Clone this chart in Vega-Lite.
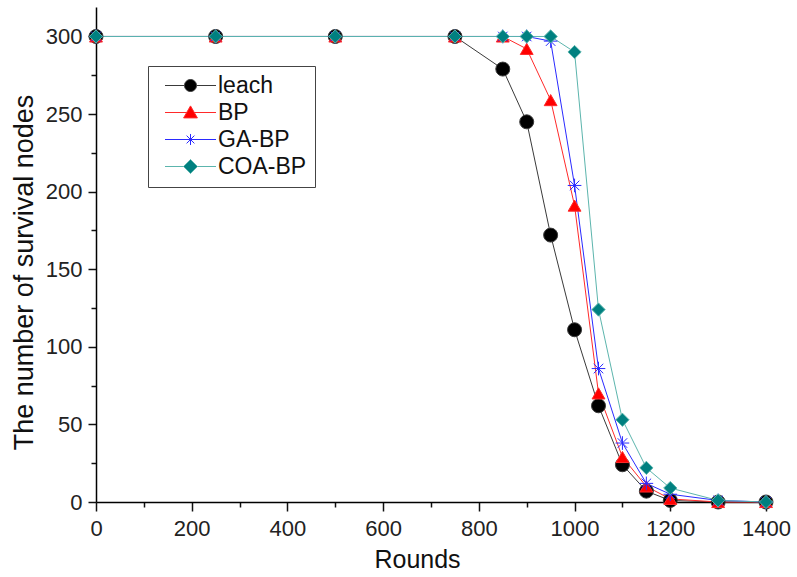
{
  "$schema": "https://vega.github.io/schema/vega-lite/v6.json",
  "width": 670,
  "height": 495,
  "autosize": "none",
  "padding": {"left": 96, "top": 7, "right": 31, "bottom": 75},
  "config": {
    "view": {"stroke": null},
    "font": "Liberation Sans",
    "axis": {
      "grid": false,
      "domainColor": "#000000",
      "domainWidth": 1.5,
      "tickColor": "#111111",
      "tickWidth": 1.5,
      "labelFont": "Liberation Sans",
      "labelFontSize": 22,
      "labelColor": "#222222",
      "titleFont": "Liberation Sans",
      "titleFontSize": 25,
      "titleFontWeight": "normal",
      "titleColor": "#111111"
    },
    "legend": {
      "title": null,
      "orient": "none",
      "legendX": 52,
      "legendY": 59,
      "padding": 8,
      "strokeColor": "#444444",
      "fillColor": "#ffffff",
      "labelFont": "Liberation Sans",
      "labelFontSize": 23,
      "labelColor": "#111111",
      "labelLimit": 300,
      "symbolSize": 144,
      "symbolStrokeWidth": 1,
      "symbolOffset": 23,
      "labelOffset": 16,
      "rowPadding": 3
    }
  },
  "data": {
    "values": [
      {"series": "leach", "round": 0, "nodes": 300},
      {"series": "leach", "round": 250, "nodes": 300},
      {"series": "leach", "round": 500, "nodes": 300},
      {"series": "leach", "round": 750, "nodes": 300},
      {"series": "leach", "round": 850, "nodes": 279},
      {"series": "leach", "round": 900, "nodes": 245},
      {"series": "leach", "round": 950, "nodes": 172},
      {"series": "leach", "round": 1000, "nodes": 111},
      {"series": "leach", "round": 1050, "nodes": 62},
      {"series": "leach", "round": 1100, "nodes": 24},
      {"series": "leach", "round": 1150, "nodes": 7},
      {"series": "leach", "round": 1200, "nodes": 1},
      {"series": "leach", "round": 1300, "nodes": 0},
      {"series": "leach", "round": 1400, "nodes": 0},
      {"series": "BP", "round": 0, "nodes": 300},
      {"series": "BP", "round": 250, "nodes": 300},
      {"series": "BP", "round": 500, "nodes": 300},
      {"series": "BP", "round": 750, "nodes": 300},
      {"series": "BP", "round": 850, "nodes": 300},
      {"series": "BP", "round": 900, "nodes": 292},
      {"series": "BP", "round": 950, "nodes": 259},
      {"series": "BP", "round": 1000, "nodes": 191},
      {"series": "BP", "round": 1050, "nodes": 70},
      {"series": "BP", "round": 1100, "nodes": 29},
      {"series": "BP", "round": 1150, "nodes": 10},
      {"series": "BP", "round": 1200, "nodes": 2},
      {"series": "BP", "round": 1300, "nodes": 0},
      {"series": "BP", "round": 1400, "nodes": 0},
      {"series": "GA-BP", "round": 0, "nodes": 300},
      {"series": "GA-BP", "round": 250, "nodes": 300},
      {"series": "GA-BP", "round": 500, "nodes": 300},
      {"series": "GA-BP", "round": 750, "nodes": 300},
      {"series": "GA-BP", "round": 850, "nodes": 300},
      {"series": "GA-BP", "round": 900, "nodes": 300},
      {"series": "GA-BP", "round": 950, "nodes": 297},
      {"series": "GA-BP", "round": 1000, "nodes": 204},
      {"series": "GA-BP", "round": 1050, "nodes": 86},
      {"series": "GA-BP", "round": 1100, "nodes": 38},
      {"series": "GA-BP", "round": 1150, "nodes": 12},
      {"series": "GA-BP", "round": 1200, "nodes": 5},
      {"series": "GA-BP", "round": 1300, "nodes": 1},
      {"series": "GA-BP", "round": 1400, "nodes": 0},
      {"series": "COA-BP", "round": 0, "nodes": 300},
      {"series": "COA-BP", "round": 250, "nodes": 300},
      {"series": "COA-BP", "round": 500, "nodes": 300},
      {"series": "COA-BP", "round": 750, "nodes": 300},
      {"series": "COA-BP", "round": 850, "nodes": 300},
      {"series": "COA-BP", "round": 900, "nodes": 300},
      {"series": "COA-BP", "round": 950, "nodes": 300},
      {"series": "COA-BP", "round": 1000, "nodes": 290},
      {"series": "COA-BP", "round": 1050, "nodes": 124},
      {"series": "COA-BP", "round": 1100, "nodes": 53},
      {"series": "COA-BP", "round": 1150, "nodes": 22},
      {"series": "COA-BP", "round": 1200, "nodes": 9},
      {"series": "COA-BP", "round": 1300, "nodes": 1},
      {"series": "COA-BP", "round": 1400, "nodes": 0}
    ]
  },
  "encoding": {
    "x": {
      "field": "round",
      "type": "quantitative",
      "scale": {"domain": [0, 1400], "nice": false},
      "axis": {
        "title": "Rounds",
        "format": "d",
        "values": [0, 100, 200, 300, 400, 500, 600, 700, 800, 900, 1000, 1100, 1200, 1300, 1400],
        "labelExpr": "datum.value % 200 === 0 ? datum.label : ''",
        "tickSize": {"condition": {"test": "datum.value % 200 === 0", "value": 9}, "value": 5},
        "labelPadding": 7,
        "labelFlush": false,
        "labelOverlap": false,
        "titleX": 321,
        "titleY": 65,
        "titleBaseline": "alphabetic",
        "titleAnchor": "middle"
      }
    },
    "y": {
      "field": "nodes",
      "type": "quantitative",
      "scale": {"domain": [0, 319], "nice": false},
      "axis": {
        "title": "The number of survival nodes",
        "format": "d",
        "values": [0, 25, 50, 75, 100, 125, 150, 175, 200, 225, 250, 275, 300],
        "labelExpr": "datum.value % 50 === 0 ? datum.label : ''",
        "tickSize": {"condition": {"test": "datum.value % 50 === 0", "value": 8}, "value": 5},
        "labelPadding": 6,
        "labelFlush": false,
        "labelOverlap": false,
        "titleFontSize": 27,
        "titleX": -72,
        "titleY": 265,
        "titleBaseline": "middle",
        "titleAnchor": "middle"
      }
    }
  },
  "layer": [
    {
      "mark": {"type": "line", "strokeWidth": 1},
      "encoding": {
        "stroke": {
          "field": "series",
          "type": "nominal",
          "scale": {
            "domain": ["leach", "BP", "GA-BP", "COA-BP"],
            "range": ["#3a3a3a", "#ff2a2a", "#2a2aff", "#5cb5ad"]
          },
          "legend": {
            "encode": {
              "symbols": {
                "update": {
                  "shape": {"signal": "datum.value === 'leach' ? 'M-4.25,0L-1,0M1,0L4.25,0M-1,0A1,1 0 1,0 1,0A1,1 0 1,0 -1,0Z' : datum.value === 'BP' ? 'M-4.25,0L-0.6,0M0.6,0L4.25,0M0,-1.1L1.15,0.9L-1.15,0.9Z' : datum.value === 'GA-BP' ? 'M-4.25,0L4.25,0M0,-0.92L0,0.92M-0.65,-0.65L0.65,0.65M-0.65,0.65L0.65,-0.65' : 'M-4.25,0L-1.17,0M1.17,0L4.25,0M-1.17,0L0,-1.17L1.17,0L0,1.17Z'"}
                }
              }
            }
          }
        }
      }
    },
    {
      "mark": {"type": "point", "opacity": 1, "strokeWidth": 1, "filled": true},
      "encoding": {
        "stroke": {"field": "series", "type": "nominal"},
        "fill": {
          "field": "series",
          "type": "nominal",
          "scale": {
            "domain": ["leach", "BP", "GA-BP", "COA-BP"],
            "range": ["#000000", "#ff0000", "transparent", "#008080"]
          },
          "legend": {
            "encode": {
              "symbols": {
                "update": {
                  "shape": {"signal": "datum.value === 'leach' ? 'M-4.25,0L-1,0M1,0L4.25,0M-1,0A1,1 0 1,0 1,0A1,1 0 1,0 -1,0Z' : datum.value === 'BP' ? 'M-4.25,0L-0.6,0M0.6,0L4.25,0M0,-1.1L1.15,0.9L-1.15,0.9Z' : datum.value === 'GA-BP' ? 'M-4.25,0L4.25,0M0,-0.92L0,0.92M-0.65,-0.65L0.65,0.65M-0.65,0.65L0.65,-0.65' : 'M-4.25,0L-1.17,0M1.17,0L4.25,0M-1.17,0L0,-1.17L1.17,0L0,1.17Z'"}
                }
              }
            }
          }
        },
        "shape": {
          "field": "series",
          "type": "nominal",
          "scale": {
            "range": ["triangle-up", "diamond", "M-1,0L1,0M0,-1L0,1M-0.7,-0.7L0.7,0.7M-0.7,0.7L0.7,-0.7", "circle"]
          },
          "legend": null
        },
        "size": {
          "field": "series",
          "type": "nominal",
          "scale": {
            "range": [165, 196, 121, 144]
          },
          "legend": null
        }
      }
    }
  ]
}
